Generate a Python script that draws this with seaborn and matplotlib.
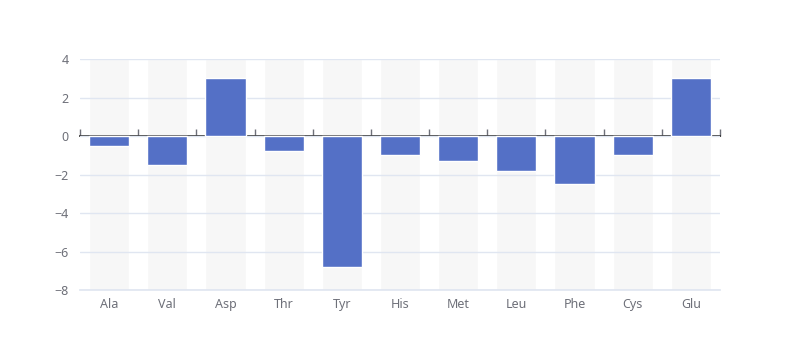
import numpy as np
import pandas as pd
import matplotlib.pyplot as plt
import seaborn as sns

# data
amino = ['Ala', 'Val', 'Asp', 'Thr', 'Tyr', 'His', 'Met', 'Leu', 'Phe', 'Cys', 'Glu']
values = [-0.5, -1.5, 3.0, -0.8, -6.8, -1.0, -1.3, -1.8, -2.5, -1.0, 3.0]
y_min, y_max = -8, 4

sns.set_theme(style="white")
plt.rcParams['font.family'] = ['Noto Sans', 'DejaVu Sans']

df = pd.DataFrame({'amino': amino, 'value': values})

fig = plt.figure(figsize=(8, 3.6), dpi=100)
ax = fig.add_axes([0.1, 0.1944, 0.8, 0.6417])

# grey background bars spanning the whole value range
pos = np.arange(len(amino))
ax.bar(pos, y_max - y_min, bottom=y_min, width=0.69, color='#f7f7f7', zorder=0)

sns.barplot(data=df, x='amino', y='value', order=amino, color='#5470c6',
            width=0.69, saturation=1, ax=ax, zorder=2)

ax.set_xlim(-0.5, len(amino) - 0.5)
ax.set_ylim(y_min, y_max)
ax.set_yticks(np.arange(y_min, y_max + 1, 2))
ax.yaxis.grid(True, color='#e0e6f1', linewidth=1)
ax.set_axisbelow(True)
ax.set_xlabel('')
ax.set_ylabel('')

for s in ['top', 'right', 'left']:
    ax.spines[s].set_visible(False)
ax.spines['bottom'].set_color('#e0e6f1')
ax.tick_params(axis='both', length=0, labelsize=9, labelcolor='#6e7079')
ax.tick_params(axis='x', pad=6)
ax.tick_params(axis='y', pad=8)

# axis line through zero with ticks at category boundaries
zero = ax.secondary_xaxis((0 - y_min) / (y_max - y_min))
zero.set_xticks(np.arange(-0.5, len(amino), 1))
zero.set_xticklabels([])
zero.spines['bottom'].set_color('#6e7079')
zero.spines['bottom'].set_linewidth(1)
zero.tick_params(axis='x', direction='out', length=5, color='#6e7079', width=1)

fig.savefig('out.png', dpi=100)
